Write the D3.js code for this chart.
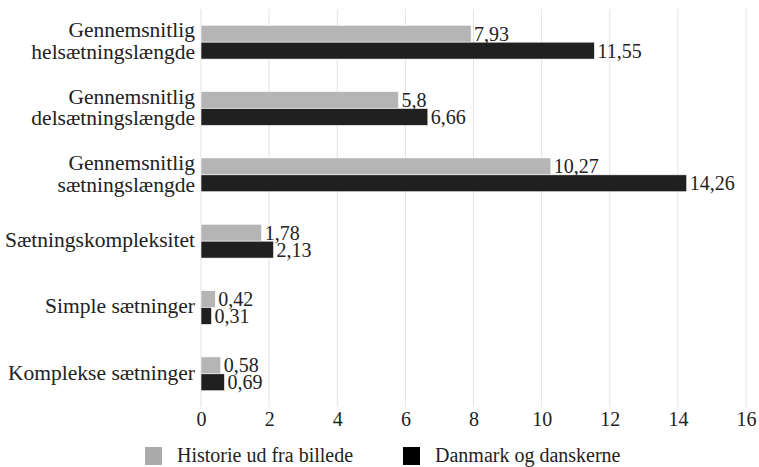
<!DOCTYPE html>
<html>
<head>
<meta charset="utf-8">
<script src="https://cdn.jsdelivr.net/npm/d3@7"></script>
<style>
  body { margin: 0; background: #fff; }
</style>
</head>
<body>
<div id="chart"></div>
<script>

var categories = [
  ["Gennemsnitlig", "helsætningslængde"],
  ["Gennemsnitlig", "delsætningslængde"],
  ["Gennemsnitlig", "sætningslængde"],
  ["Sætningskompleksitet"],
  ["Simple sætninger"],
  ["Komplekse sætninger"]
];
var seriesNames = ["Historie ud fra billede", "Danmark og danskerne"];
var historie = [7.93, 5.8, 10.27, 1.78, 0.42, 0.58];
var danmark = [11.55, 6.66, 14.26, 2.13, 0.31, 0.69];
var xTicks = [0, 2, 4, 6, 8, 10, 12, 14, 16];
var colors = ["#b5b5b5", "#202020"];
var FONT = "'Liberation Serif'";

function createChart() {
  var width = 759;
  var height = 467;
  var marginleft = 201;
  var marginright = 13;
  var margintop = 9;
  var marginbottom = 60;

  var svg = d3.select("#chart")
    .append("svg")
    .attr("width", width)
    .attr("height", height);

  var xScale = d3.scaleLinear()
    .domain([0, 16])
    .range([marginleft, width - marginright]);

  var yScale = d3.scaleBand()
    .domain(d3.range(categories.length))
    .range([margintop, height - marginbottom])
    .paddingInner(0.49)
    .paddingOuter(0.245);

  var inner = d3.scaleBand()
    .domain([0, 1])
    .range([0, yScale.bandwidth()]);

  // gridlines
  svg.append("g")
    .selectAll("line")
    .data(xTicks)
    .enter()
    .append("line")
    .attr("x1", function(d) { return xScale(d); })
    .attr("x2", function(d) { return xScale(d); })
    .attr("y1", margintop)
    .attr("y2", height - marginbottom)
    .attr("stroke", "#e3e3e3")
    .attr("stroke-width", 1);

  var xaxis = svg.append("g")
    .attr("transform", "translate(0," + (height - marginbottom) + ")")
    .call(d3.axisBottom(xScale).tickValues(xTicks).tickSize(0).tickPadding(5));
  xaxis.attr("font-family", null).attr("font-size", null);
  xaxis.select(".domain").remove();
  xaxis.selectAll("text")
    .style("font-family", FONT)
    .style("font-size", "20px")
    .attr("fill", "#222");

  var rows = categories.map(function(c, i) {
    return { label: c, values: [historie[i], danmark[i]], index: i };
  });

  var groups = svg.selectAll("g.cat")
    .data(rows)
    .enter()
    .append("g")
    .attr("class", "cat")
    .attr("transform", function(d) { return "translate(0," + yScale(d.index) + ")"; });

  groups.selectAll("rect")
    .data(function(d) { return d.values; })
    .enter()
    .append("rect")
    .attr("x", xScale(0))
    .attr("y", function(d, j) { return inner(j); })
    .attr("width", function(d) { return xScale(d) - xScale(0); })
    .attr("height", inner.bandwidth())
    .attr("fill", function(d, j) { return colors[j]; })
    .attr("stroke", "#fff")
    .attr("stroke-width", 0.6);

  groups.selectAll("text.val")
    .data(function(d) { return d.values; })
    .enter()
    .append("text")
    .attr("class", "val")
    .attr("x", function(d) { return xScale(d) + 3; })
    .attr("y", function(d, j) { return inner(j) + inner.bandwidth() / 2 + 7; })
    .style("font-family", FONT)
    .style("font-size", "20px")
    .attr("fill", "#222")
    .text(function(d) { return String(d).replace(".", ","); });

  // category labels
  groups.append("text")
    .attr("class", "cat-label")
    .attr("text-anchor", "end")
    .style("font-family", FONT)
    .style("font-size", "21.5px")
    .attr("fill", "#222")
    .each(function(d) {
      var t = d3.select(this);
      var n = d.label.length;
      d.label.forEach(function(line, k) {
        t.append("tspan")
          .attr("x", marginleft - 6)
          .attr("y", yScale.bandwidth() / 2 + (k - (n - 1) / 2) * 22 + 6)
          .text(line);
      });
    });

  // legend
  var legendX = [145, 403];
  var legend = svg.selectAll("g.legend")
    .data(seriesNames)
    .enter()
    .append("g")
    .attr("class", "legend")
    .attr("transform", function(d, i) { return "translate(" + legendX[i] + ",447)"; });

  legend.append("rect")
    .attr("width", 17)
    .attr("height", 18)
    .attr("fill", function(d, i) { return i === 0 ? "#ababab" : "#000"; });

  legend.append("text")
    .attr("x", 32)
    .attr("y", 15)
    .style("font-family", FONT)
    .style("font-size", "20px")
    .attr("fill", "#222")
    .text(function(d) { return d; });
}

createChart();
</script>
</body>
</html>
